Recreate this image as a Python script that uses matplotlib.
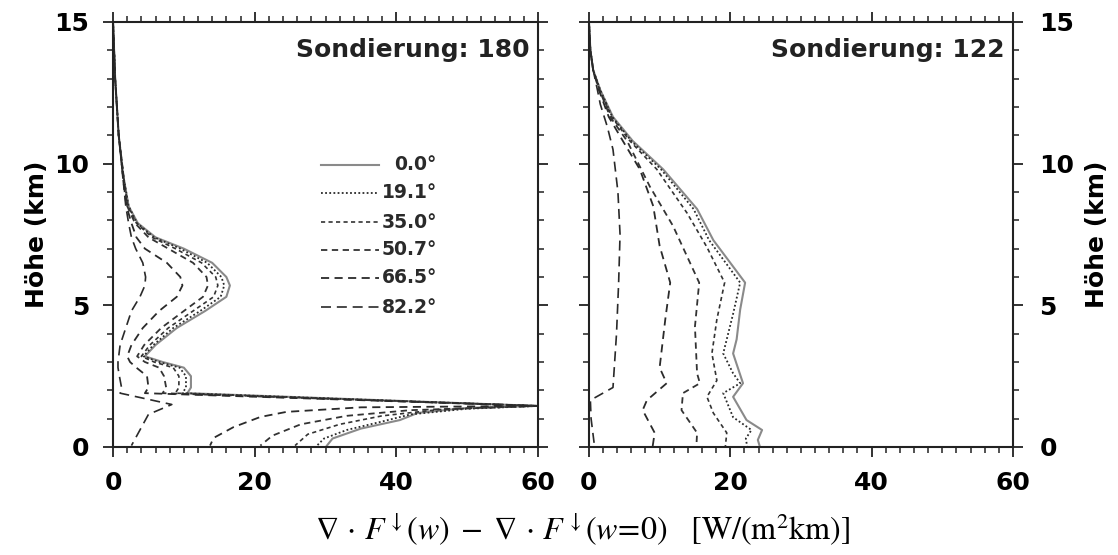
import matplotlib
matplotlib.use("Agg")
import matplotlib.pyplot as plt
from matplotlib.ticker import MultipleLocator

# Zenitwinkel der Kurven
angles = ["0.0°", "19.1°", "35.0°", "50.7°", "66.5°", "82.2°"]

# Sondierung 180: x-Werte [W/(m2 km)] und Hoehen [km], eine Liste pro Winkel
x180 = [
    [0, 0.3, 0.8, 1.5, 2.2, 3.5, 6.0, 10, 14, 16, 16.5, 16, 13, 9, 6, 4.5, 7, 10, 11, 11, 10.5,
     60, 50, 43, 40.5, 35, 31, 30.2],
    [0, 0.3, 0.8, 1.5, 2.2, 3.4, 5.8, 9.5, 13.3, 15.3, 15.7, 15.2, 12.3, 8.5, 5.7, 4.3, 6.5, 9.4, 10.3, 10.3, 9.8,
     60, 50, 42, 38, 33, 29.8, 28.8],
    [0, 0.3, 0.8, 1.5, 2.1, 3.3, 5.5, 8.8, 12.5, 14.5, 14.8, 14.2, 11.3, 7.8, 5.2, 4.0, 5.8, 8.5, 9.3, 9.3, 8.8,
     60, 46, 38, 32, 27.5, 25.7],
    [0, 0.3, 0.8, 1.5, 2.0, 3.1, 5.0, 7.8, 11.3, 13.2, 13.4, 12.7, 10, 6.8, 4.4, 3.4, 4.5, 6.5, 7.2, 7.5, 7.0,
     60, 42, 33, 26.5, 22.5, 20.8],
    [0, 0.3, 0.8, 1.4, 1.9, 2.6, 3.3, 4.5, 7.6, 9.5, 9.8, 9.0, 6.5, 4.2, 2.6, 2.0, 2.4, 3.3, 4.8, 5.0, 4.5,
     60, 35, 24.5, 20.8, 17, 14.2, 13.7],
    [0, 0.3, 0.8, 1.4, 1.8, 2.2, 2.6, 3.2, 4.2, 4.6, 4.5, 3.8, 2.6, 1.8, 1.0, 0.8, 0.7, 0.7, 0.9, 1.2, 1.0,
     8.3, 5.0, 3.8, 2.6],
]
h180_top = [15, 13, 11, 9.5, 8.5, 7.9, 7.4, 7.0, 6.5, 6.0, 5.7, 5.3, 4.8, 4.2, 3.6, 3.2, 3.0, 2.8, 2.5, 2.1, 1.9]
h180_low = [
    [1.45, 1.38, 1.2, 0.95, 0.65, 0.3, 0.05],
    [1.45, 1.35, 1.15, 0.9, 0.6, 0.3, 0.05],
    [1.45, 1.32, 1.1, 0.8, 0.45, 0.05],
    [1.45, 1.3, 1.1, 0.8, 0.4, 0.05],
    [1.45, 1.4, 1.24, 1.06, 0.7, 0.32, 0.05],
    [1.5, 1.15, 0.6, 0.05],
]

# Sondierung 122
x122 = [
    [0, 0.2, 0.6, 1.6, 3.4, 6.2, 10.5, 15.3, 17.6, 22.1, 21.4, 20.9, 20.4, 21.8, 20.4, 22.3, 24.5, 23.9, 24.2],
    [0, 0.2, 0.6, 1.6, 3.3, 6.0, 10.2, 14.8, 17.0, 21.4, 20.4, 19.0, 20.4, 21.4, 19.0, 20.4, 23.0, 22.2, 22.4],
    [0, 0.2, 0.6, 1.5, 3.2, 5.8, 9.6, 13.9, 16.7, 19.2, 18.1, 17.4, 18.1, 16.7, 17.6, 19.5, 19.3],
    [0, 0.2, 0.6, 1.5, 3.0, 5.4, 8.6, 11.9, 15.6, 15.0, 15.3, 15.7, 13.3, 13.1, 15.3, 15.2],
    [0, 0.2, 0.6, 1.4, 2.8, 4.8, 7.2, 9.1, 10.0, 11.5, 10.8, 10.0, 11.0, 8.2, 7.6, 9.3, 9.0],
    [0, 0.2, 0.6, 1.2, 1.6, 2.6, 3.4, 4.1, 4.4, 4.2, 3.9, 3.4, 0.2, 0.3, 0.8],
]
h122 = [
    [15, 14, 13.3, 12.6, 11.65, 10.8, 9.8, 8.4, 7.3, 5.8, 4.85, 3.8, 3.3, 2.25, 1.77, 0.95, 0.6, 0.25, 0.0],
    [15, 14, 13.3, 12.6, 11.65, 10.8, 9.8, 8.4, 7.3, 5.8, 4.7, 3.3, 2.6, 2.25, 1.9, 1.05, 0.6, 0.3, 0.0],
    [15, 14, 13.3, 12.6, 11.65, 10.8, 9.8, 8.25, 7.05, 5.8, 4.5, 3.3, 2.35, 1.77, 1.2, 0.5, 0.0],
    [15, 14, 13.3, 12.6, 11.65, 10.8, 9.2, 7.8, 5.8, 4.25, 2.6, 2.25, 1.9, 1.3, 0.5, 0.0],
    [15, 14, 13.3, 12.6, 11.65, 10.8, 9.8, 8.5, 7.1, 5.8, 4.5, 2.8, 2.25, 1.65, 1.3, 0.5, 0.0],
    [15, 14, 13.3, 12.6, 12.1, 11.3, 10.5, 9.0, 7.5, 5.8, 4.0, 2.1, 1.65, 1.0, 0.0],
]

styles = ["-", (0, (1, 1.3)), (0, (2.5, 2)), (0, (3.5, 2.5)), (0, (4.5, 3)), (0, (6, 3.5))]
colors = ["#8a8a8a", "#2a2a2a", "#333333", "#333333", "#2a2a2a", "#2a2a2a"]
widths = [1.5, 1.3, 1.2, 1.3, 1.3, 1.2]

plt.rcParams["font.family"] = ["DejaVu Sans"]
plt.rcParams["mathtext.fontset"] = "stix"

fig = plt.figure(figsize=(11.18, 5.55), dpi=100)
ax1 = fig.add_axes([0.1011, 0.1946, 0.3801, 0.7658])
ax2 = fig.add_axes([0.5268, 0.1946, 0.3792, 0.7658])

for i in range(len(angles)):
    ax1.plot(x180[i], h180_top + h180_low[i], linestyle=styles[i], color=colors[i], lw=widths[i])
    ax2.plot(x122[i], h122[i], linestyle=styles[i], color=colors[i], lw=widths[i])

for ax, title in [(ax1, "Sondierung: 180"), (ax2, "Sondierung: 122")]:
    ax.set_xlim(0, 60)
    ax.set_ylim(0, 15)
    ax.xaxis.set_major_locator(MultipleLocator(20))
    ax.xaxis.set_minor_locator(MultipleLocator(2))
    ax.yaxis.set_major_locator(MultipleLocator(5))
    ax.yaxis.set_minor_locator(MultipleLocator(1))
    ax.tick_params(which="major", direction="out", length=7, width=1.3, labelsize=18,
                   top=True, right=True, color="#222222")
    ax.tick_params(which="minor", direction="out", length=4.5, width=1.1,
                   top=True, right=True, color="#222222")
    ax.tick_params(axis="x", pad=10)
    for lbl in ax.get_xticklabels() + ax.get_yticklabels():
        lbl.set_fontweight("bold")
    for s in ax.spines.values():
        s.set_linewidth(1.5)
        s.set_color("#222222")
    ax.text(0.98, 0.935, title, transform=ax.transAxes, ha="right", va="center",
            fontsize=18, fontweight="bold", color="#222222")

ax1.tick_params(axis="y", pad=10)
ax1.set_ylabel("Höhe (km)", fontsize=18, fontweight="bold", labelpad=4)
ax2.tick_params(axis="y", labelleft=False, labelright=True, pad=12)
for lbl in ax2.get_yticklabels():
    lbl.set_fontweight("bold")
ax2.yaxis.set_label_position("right")
ax2.set_ylabel("Höhe (km)", fontsize=18, fontweight="bold", labelpad=8, rotation=90)

# Legende im linken Bild
leg_y = [0.664, 0.598, 0.529, 0.464, 0.398, 0.329]
for i, lab in enumerate(angles):
    ax1.plot([0.49, 0.625], [leg_y[i], leg_y[i]], transform=ax1.transAxes,
             linestyle=styles[i], color=colors[i], lw=widths[i])
    ax1.text(0.762, leg_y[i], lab, transform=ax1.transAxes, ha="right", va="center",
             fontsize=13.5, fontweight="bold", color="#2a2a2a")

fig.text(0.521, 0.045,
         r"$\nabla\,\cdot\,F^{\downarrow}(w)\;-\;\nabla\,\cdot\,F^{\downarrow}(w\!=\!0)\quad$"
         r"[W/(m$^2$km)]",
         ha="center", va="center", fontsize=23, family="STIXGeneral")

fig.savefig("out.png", dpi=100)
